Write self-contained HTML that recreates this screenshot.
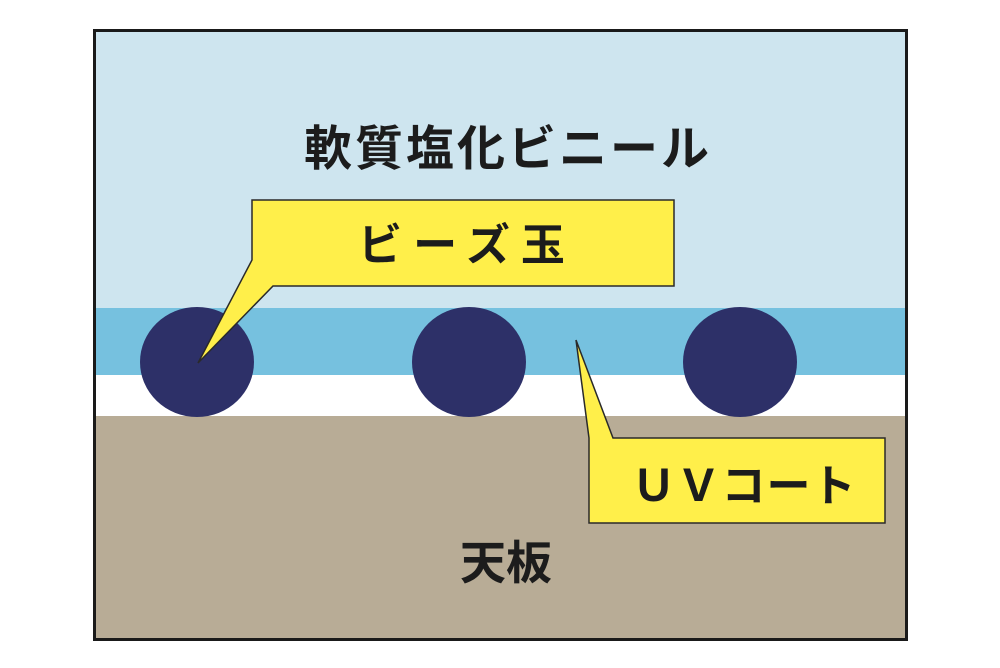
<!DOCTYPE html>
<html><head><meta charset="utf-8"><style>
html,body{margin:0;padding:0;background:#fff;}
svg{display:block;}
text{font-family:"Liberation Sans","Noto Sans CJK JP",sans-serif;font-weight:bold;fill:#1c1c1c;}
</style></head><body>
<svg width="1000" height="668" viewBox="0 0 1000 668" xmlns="http://www.w3.org/2000/svg">
<rect x="0" y="0" width="1000" height="668" fill="#fff"/>
<rect x="94" y="30" width="812" height="278" fill="#cee5ef"/>
<rect x="94" y="308" width="812" height="67" fill="#76c1df"/>
<rect x="94" y="375" width="812" height="41" fill="#ffffff"/>
<rect x="94" y="416" width="812" height="224" fill="#b8ac96"/>
<ellipse cx="197" cy="362" rx="57" ry="55" fill="#2d3068"/>
<ellipse cx="469" cy="362" rx="57" ry="55" fill="#2d3068"/>
<ellipse cx="740" cy="362" rx="57" ry="55" fill="#2d3068"/>
<rect x="94.5" y="30.5" width="812" height="609" fill="none" stroke="#1a1a1a" stroke-width="3"/>
<polygon points="252,200 674,200 674,286 273,286 198,363 252,260" fill="#ffef4a" stroke="#2a2a2a" stroke-width="1.5" stroke-linejoin="miter"/>
<polygon points="576,340 613,438 885,438 885,523 589,523 589,438" fill="#ffef4a" stroke="#2a2a2a" stroke-width="1.5"/>
<text x="508" y="165" font-size="48" text-anchor="middle" letter-spacing="3">軟質塩化ビニール</text>
<text x="467" y="260" font-size="44" text-anchor="middle" letter-spacing="11">ビーズ玉</text>
<text x="744" y="501" font-size="44" text-anchor="middle" letter-spacing="1">ＵＶコート</text>
<text x="506" y="579" font-size="46" text-anchor="middle">天板</text>
</svg>
</body></html>
